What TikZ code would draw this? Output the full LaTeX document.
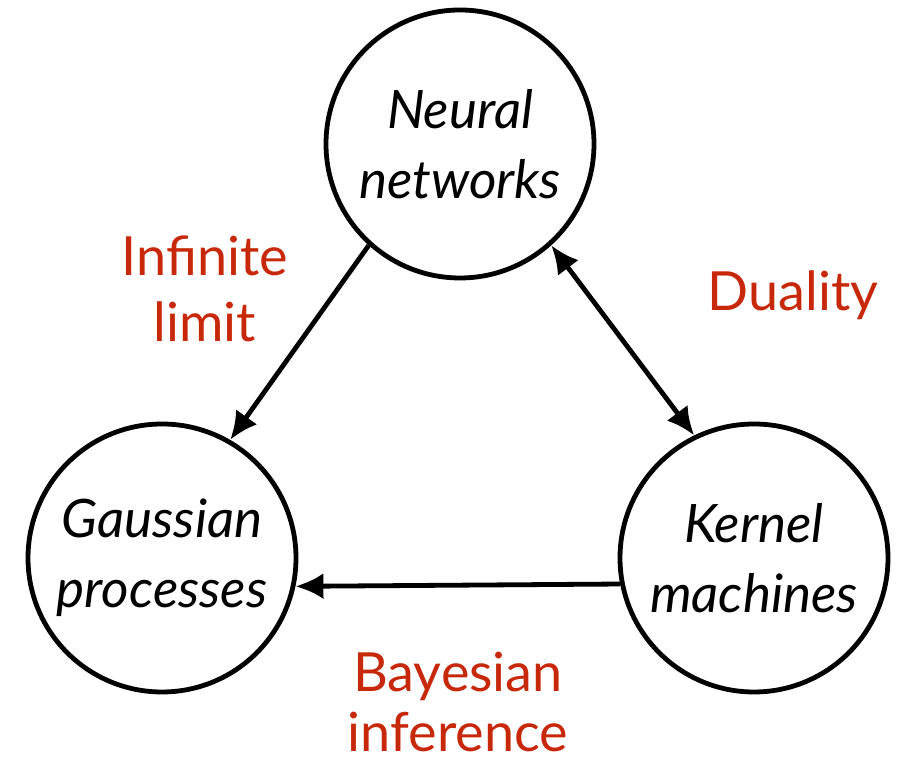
\documentclass[tikz,border=0pt]{standalone}
\usepackage{fontspec}
\setmainfont{Lato}
\usepackage{xcolor}
\usetikzlibrary{arrows.meta, positioning}

\definecolor{labelred}{RGB}{200,40,10}

\tikzset{
    >={Latex[length=14pt, width=13pt]},
    topic/.style={circle, draw, line width=2.4pt, minimum size=134pt, inner sep=0pt,
                  align=center, font=\itshape\fontsize{26.5}{35}\selectfont},
    link/.style={line width=2.4pt, ->},
    linklabel/.style={text=labelred, align=center, font=\fontsize{27}{30}\selectfont}
}

\begin{document}
\begin{tikzpicture}[x=0.5pt, y=0.5pt]
                        \useasboundingbox (0,0) rectangle (900,765);

                        % the three topics
                        \node[topic] (nn) at (460, 621) {Neural\\networks};
                        \node[topic] (gp) at (162, 207) {Gaussian\\processes};
                        \node[topic] (km) at (754, 207) {Kernel\\machines};

                        % connections
                        \draw[link] (nn.228.6) -- (gp.60.7);
                        \draw[link, <->] (nn.312.7) -- (km.116.8);
                        \draw[link] (km.191.4) -- (gp.348.5);

                        % labels
                        \node[linklabel] (lblinf) at (205, 476) {Infinite\\[3pt]limit};
                        \node[linklabel] (lbldual) at (793, 470) {Duality};
                        \node[linklabel] (lblbayes) at (458, 63) {Bayesian\\inference};
                    \end{tikzpicture}
\end{document}
